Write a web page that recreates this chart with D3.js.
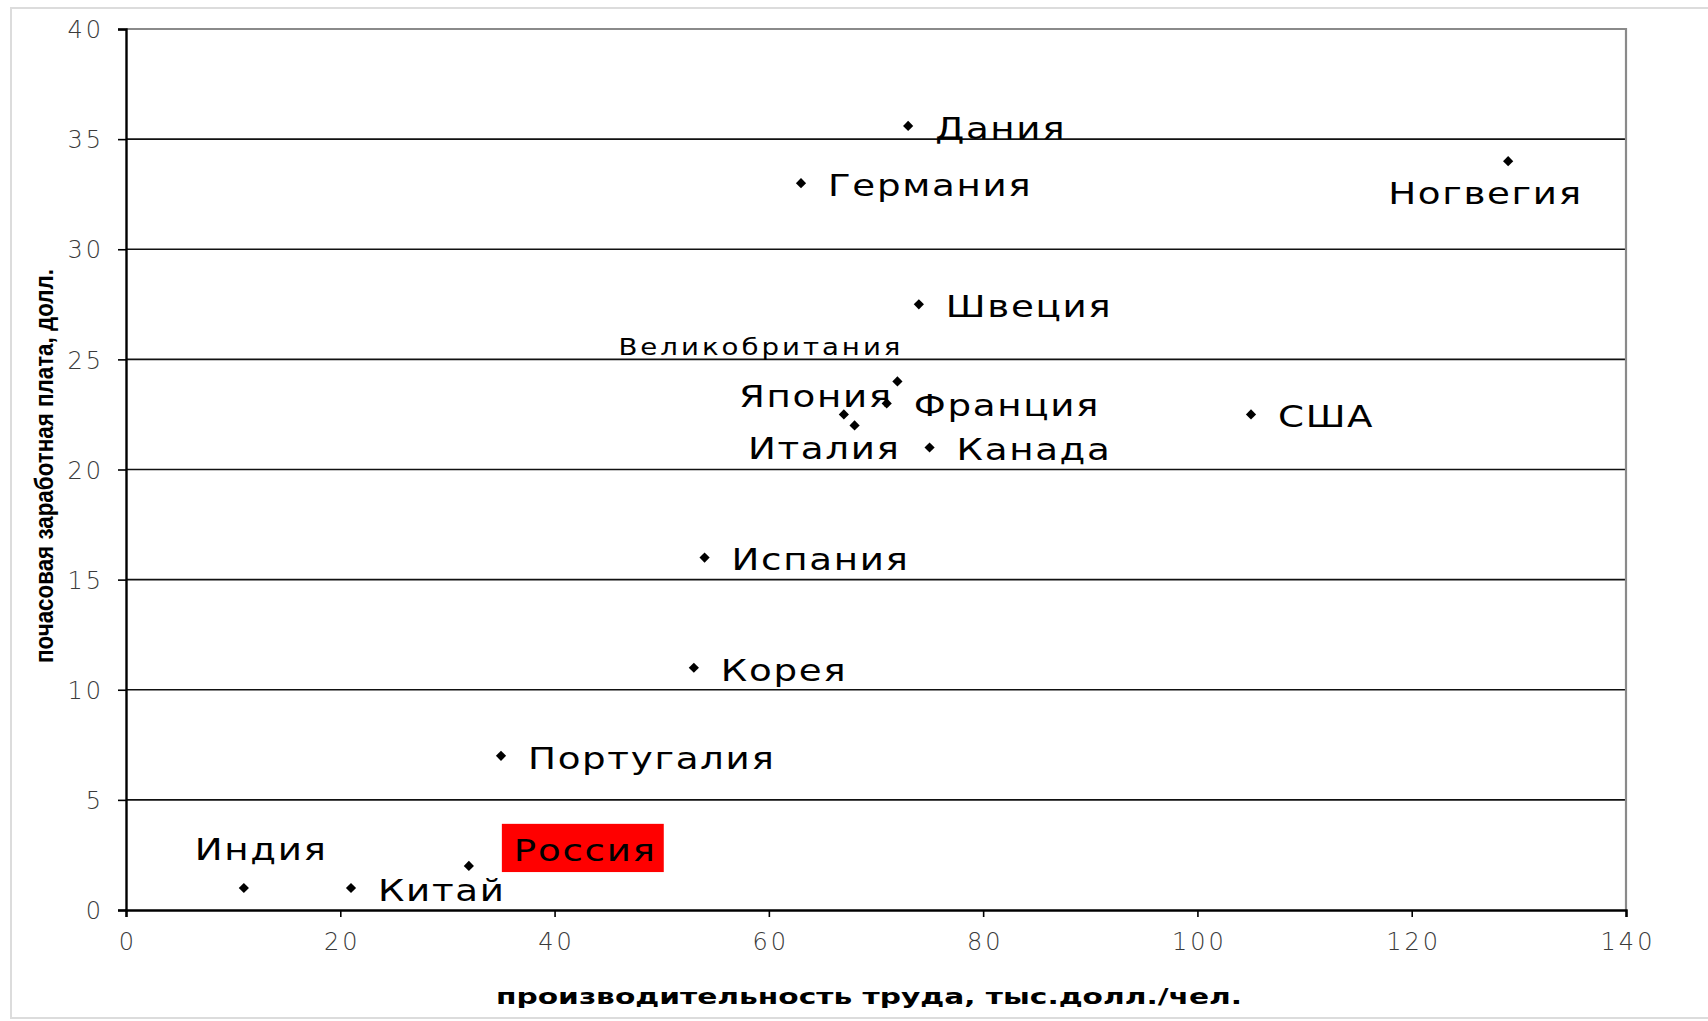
<!DOCTYPE html>
<html>
<head>
<meta charset="utf-8">
<script src="https://cdnjs.cloudflare.com/ajax/libs/d3/7.8.5/d3.min.js"></script>
<style>
  body { margin: 0; background: #fff; }
  svg { display: block; }
</style>
</head>
<body>
<div id="chart-area"></div>
<script>
// countries and values
var countries = ["Индия", "Китай", "Россия", "Португалия", "Корея", "Испания",
                 "Италия", "Япония", "Франция", "Великобритания", "Канада",
                 "Швеция", "Германия", "Дания", "США", "Ногвегия"];
var productivity = [11, 21, 32, 35, 53, 54, 68, 67, 71, 72, 75, 74, 63, 73, 105, 129];
var wage = [1, 1, 2, 7, 11, 16, 22, 22.5, 23, 24, 21, 27.5, 33, 35.6, 22.5, 34];

var xTicks = [0, 20, 40, 60, 80, 100, 120, 140];
var yTicks = [0, 5, 10, 15, 20, 25, 30, 35, 40];

var xTitle = "производительность труда, тыс.долл./чел.";
var yTitle = "почасовая заработная плата, долл.";

// label placement (offsets from the marker)
var place = {
    "Ногвегия":       {dx: -120, dy: 32},
    "Индия":          {dx: -49, dy: -39},
    "Великобритания": {dx: 6, dy: -35, anchor: "end", small: true},
    "Япония":         {dx: 49, dy: -18, anchor: "end"},
    "Италия":         {dx: 46, dy: 23, anchor: "end"},
    "Россия":         {dx: 45, dy: -16, box: true}
};

var W = 1708, H = 1021;
var margin = {left: 126, right: 82, top: 29, bottom: 111};
var width = W - margin.left - margin.right;
var height = H - margin.top - margin.bottom;

var svg = d3.select("#chart-area").append("svg")
    .attr("width", W)
    .attr("height", H);

// light outer frame
svg.append("rect")
    .attr("x", 11).attr("y", 8)
    .attr("width", W + 20).attr("height", 1010)
    .attr("fill", "none")
    .attr("stroke", "#dcdcdc")
    .attr("stroke-width", 2);

var g = svg.append("g")
    .attr("transform", "translate(" + margin.left + "," + margin.top + ")");

var x = d3.scaleLinear().domain([0, 140]).range([0, width]);
var y = d3.scaleLinear().domain([0, 40]).range([height, 0]);

// gridlines
g.append("g")
    .selectAll("line")
    .data(yTicks.filter(function(d) { return d > 0 && d < 40; }))
    .enter().append("line")
    .attr("x1", 0).attr("x2", width)
    .attr("y1", function(d) { return y(d); })
    .attr("y2", function(d) { return y(d); })
    .attr("stroke", "#111")
    .attr("stroke-width", 1.6);

// top and right border of the plot
g.append("path")
    .attr("d", "M0," + y(40) + "H" + x(140) + "V" + y(0))
    .attr("fill", "none")
    .attr("stroke", "#8a8a8a")
    .attr("stroke-width", 2.2);

var tickFont = "'DejaVu Sans', Verdana, sans-serif";

var yAxis = g.append("g")
    .call(d3.axisLeft(y).tickValues(yTicks).tickSize(8).tickPadding(14));
var xAxis = g.append("g")
    .attr("transform", "translate(0," + height + ")")
    .call(d3.axisBottom(x).tickValues(xTicks).tickSize(7).tickPadding(16));

[xAxis, yAxis].forEach(function(a) {
    a.select(".domain").attr("stroke", "#000").attr("stroke-width", 2.4);
    a.selectAll(".tick line").attr("stroke", "#000").attr("stroke-width", 1.6);
    a.selectAll(".tick text")
        .attr("fill", "#3a3a3a")
        .style("font-family", tickFont)
        .style("font-weight", 200)
        .style("font-size", "24px")
        .style("letter-spacing", "3px");
});
yAxis.selectAll(".tick text").attr("dy", "0.36em");
xAxis.selectAll(".tick text").attr("dx", "1.5px");

// axis titles
svg.append("text")
    .attr("x", margin.left + width / 2 - 7)
    .attr("y", 997)
    .attr("text-anchor", "middle")
    .attr("dominant-baseline", "central")
    .attr("textLength", 746)
    .attr("lengthAdjust", "spacingAndGlyphs")
    .style("font-family", tickFont)
    .style("font-weight", "bold")
    .style("font-size", "21px")
    .text(xTitle);

svg.append("text")
    .attr("transform", "translate(44,466) rotate(-90)")
    .attr("text-anchor", "middle")
    .attr("dominant-baseline", "central")
    .attr("textLength", 394)
    .attr("lengthAdjust", "spacingAndGlyphs")
    .style("font-family", "'Liberation Sans Narrow', 'Liberation Sans', Arial, sans-serif")
    .style("font-weight", "bold")
    .style("font-size", "26px")
    .text(yTitle);

var data = countries.map(function(c, i) {
    return {name: c, px: productivity[i], w: wage[i]};
});

// markers
g.append("g")
    .selectAll("path")
    .data(data)
    .enter().append("path")
    .attr("transform", function(d) {
        return "translate(" + x(d.px) + "," + y(d.w) + ") rotate(45)";
    })
    .attr("d", d3.symbol().type(d3.symbolSquare).size(52))
    .attr("fill", "#000");

// labels: the original text is drawn wide, so stretch it a bit
var labels = g.append("g")
    .selectAll("g")
    .data(data)
    .enter().append("g")
    .attr("transform", function(d) {
        var p = place[d.name] || {dx: 27, dy: 2};
        return "translate(" + (x(d.px) + p.dx) + "," + (y(d.w) + p.dy) + ")";
    })
    .append("g")
    .attr("transform", "scale(1.2,1)");

labels.append("text")
    .attr("text-anchor", function(d) { return (place[d.name] || {}).anchor || "start"; })
    .attr("dominant-baseline", "central")
    .attr("fill", "#000")
    .style("font-family", tickFont)
    .style("font-size", function(d) { return (place[d.name] || {}).small ? "23px" : "31px"; })
    .style("letter-spacing", function(d) { return (place[d.name] || {}).small ? "2.5px" : "1.4px"; })
    .text(function(d) { return d.name; });

// red box behind the Russia label
labels.filter(function(d) { return (place[d.name] || {}).box; })
    .each(function() {
        var grp = d3.select(this);
        var bb = grp.select("text").node().getBBox();
        grp.insert("rect", "text")
            .attr("x", bb.x - 10)
            .attr("y", bb.y - 8)
            .attr("width", bb.width + 16)
            .attr("height", bb.height + 12)
            .attr("fill", "#ff0000");
    });
</script>
</body>
</html>
